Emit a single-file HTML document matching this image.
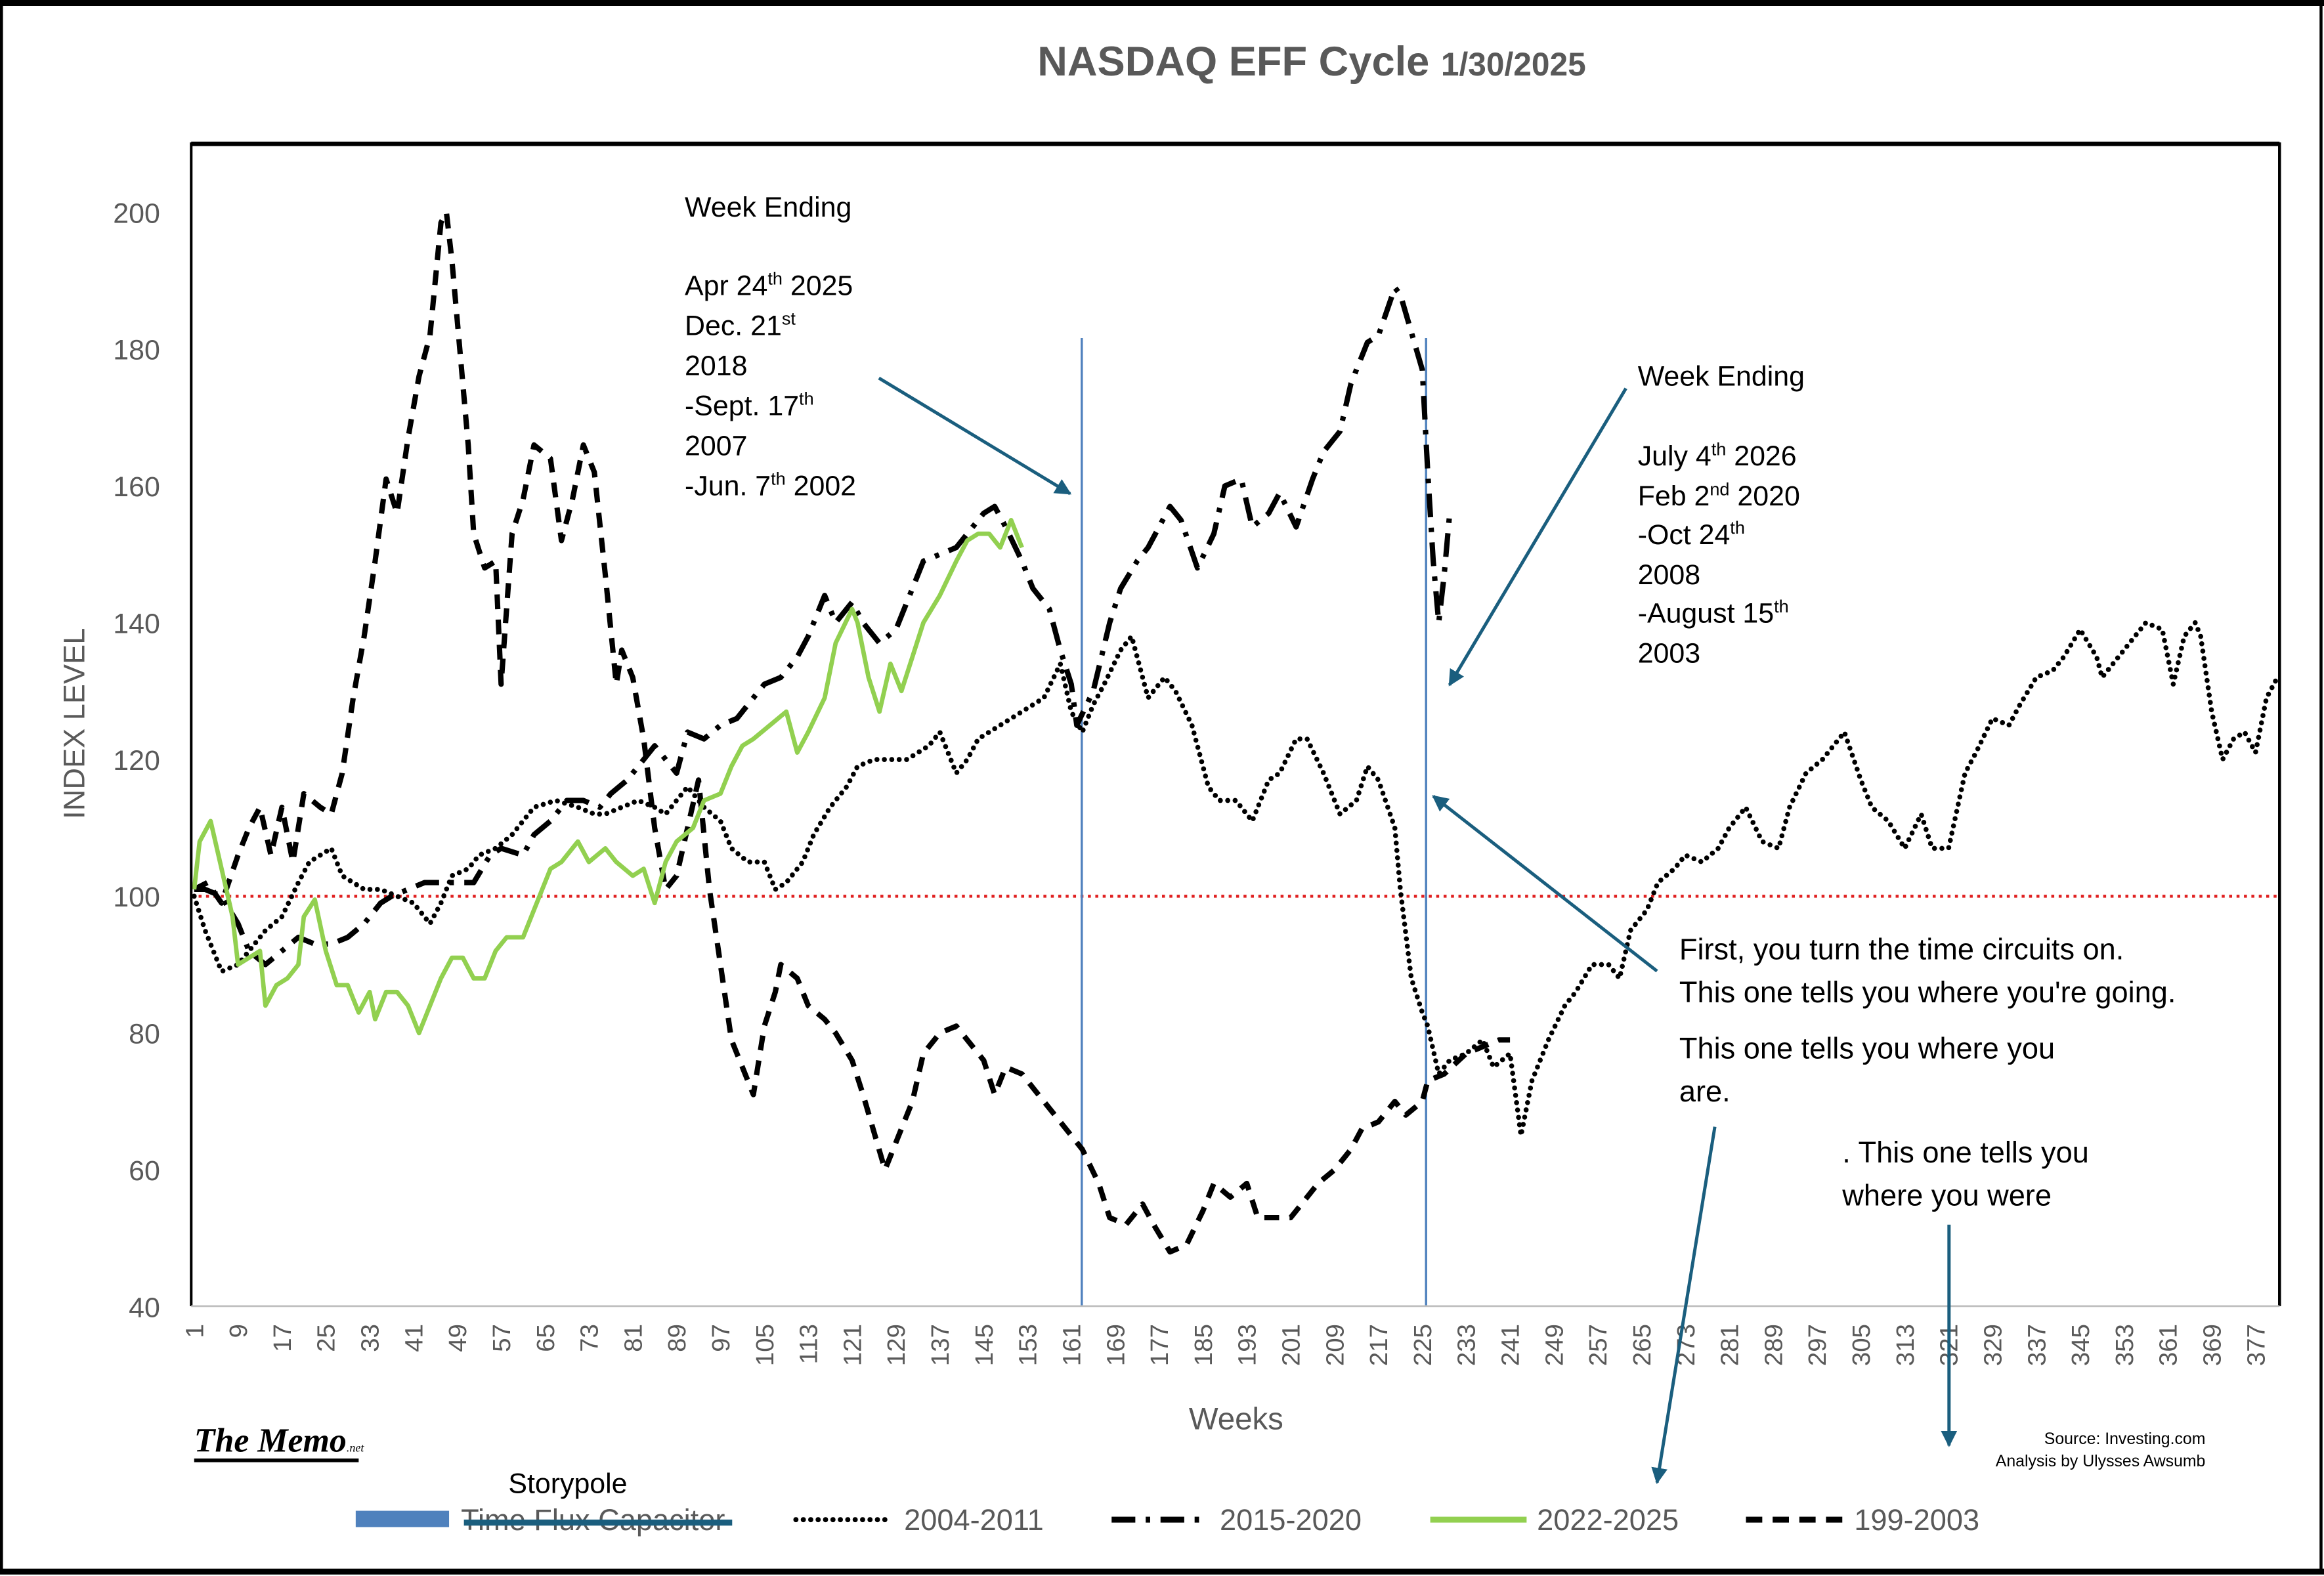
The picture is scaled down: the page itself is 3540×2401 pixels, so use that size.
<!DOCTYPE html>
<html><head><meta charset="utf-8"><style>
html,body{margin:0;padding:0;background:#fff;}
svg{display:block;}
text{font-family:"Liberation Sans",sans-serif;}
</style></head>
<body>
<svg id="chart" width="3540" height="2401" viewBox="0 0 1568 1063" preserveAspectRatio="none" xmlns="http://www.w3.org/2000/svg">
<rect x="0" y="0" width="1568" height="1063" fill="#fff"/>
<rect x="1" y="2" width="1565" height="1058" fill="none" stroke="#000" stroke-width="2"/>
<line x1="0" y1="2" x2="1568" y2="2" stroke="#000" stroke-width="4"/>
<line x1="0" y1="1060" x2="1568" y2="1060" stroke="#000" stroke-width="4"/>
<g>
<text x="885" y="51" text-anchor="middle" fill="#595959" font-weight="bold" font-size="28">NASDAQ EFF Cycle <tspan font-size="22">1/30/2025</tspan></text>
</g>
<g id="plot"></g>
<g id="axes"></g>
<g font-size="19" fill="#000">
<text x="462" y="146">Week Ending</text>
<text x="462" y="199">Apr 24<tspan font-size="12" dy="-7">th</tspan><tspan dy="7"> 2025</tspan></text>
<text x="462" y="226">Dec. 21<tspan font-size="12" dy="-7">st</tspan></text>
<text x="462" y="253">2018</text>
<text x="462" y="280">-Sept. 17<tspan font-size="12" dy="-7">th</tspan></text>
<text x="462" y="307">2007</text>
<text x="462" y="334">-Jun. 7<tspan font-size="12" dy="-7">th</tspan><tspan dy="7"> 2002</tspan></text>
</g>
<g font-size="19" fill="#000">
<text x="1105" y="260">Week Ending</text>
<text x="1105" y="314">July 4<tspan font-size="12" dy="-7">th</tspan><tspan dy="7"> 2026</tspan></text>
<text x="1105" y="341">Feb 2<tspan font-size="12" dy="-7">nd</tspan><tspan dy="7"> 2020</tspan></text>
<text x="1105" y="367">-Oct 24<tspan font-size="12" dy="-7">th</tspan></text>
<text x="1105" y="394">2008</text>
<text x="1105" y="420">-August 15<tspan font-size="12" dy="-7">th</tspan></text>
<text x="1105" y="447">2003</text>
</g>
<g font-size="20" fill="#000">
<text x="1133" y="647">First, you turn the time circuits on.</text>
<text x="1133" y="676">This one tells you where you're going.</text>
<text x="1133" y="714">This one tells you where you</text>
<text x="1133" y="743">are.</text>
<text x="1243" y="784">. This one tells you</text>
<text x="1243" y="813">where you were</text>
</g>
<defs>
<marker id="ah" viewBox="0 0 10 10" refX="9" refY="5" markerWidth="5" markerHeight="5" orient="auto"><path d="M0,0 L10,5 L0,10 z" fill="#1a5e7e"/></marker>
</defs>
<g stroke="#1a5e7e" stroke-width="2.2" marker-end="url(#ah)">
<line x1="593" y1="255" x2="722" y2="333"/>
<line x1="1097" y1="262" x2="978" y2="462"/>
<line x1="1118" y1="655" x2="967" y2="537"/>
<line x1="1157" y1="760" x2="1118" y2="1000"/>
<line x1="1315" y1="826" x2="1315" y2="975"/>
</g>
<g>
<text x="131" y="979" style="font-family:'Liberation Serif',serif;font-style:italic;font-weight:bold;" font-size="23" fill="#000">The Memo<tspan font-size="8" font-weight="normal">.net</tspan></text>
<line x1="131" y1="985" x2="242" y2="985" stroke="#000" stroke-width="2.5"/>
</g>
<g font-size="11" fill="#000" text-anchor="end">
<text x="1488" y="974">Source: Investing.com</text>
<text x="1488" y="989">Analysis by Ulysses Awsumb</text>
</g>
<g font-size="20" fill="#595959">
<text x="343" y="1007" fill="#000" font-size="19">Storypole</text>
<rect x="240" y="1019" width="63" height="11" fill="#4f81bd"/>
<text x="311" y="1032">Time Flux Capacitor</text>
<line x1="313" y1="1027" x2="494" y2="1027" stroke="#1a5e7e" stroke-width="4"/>
<line x1="537" y1="1025" x2="598" y2="1025" stroke="#000" stroke-width="3.5" stroke-dasharray="0,5" stroke-linecap="round"/>
<text x="610" y="1032">2004-2011</text>
<line x1="750" y1="1025" x2="815" y2="1025" stroke="#000" stroke-width="4" stroke-dasharray="16,7,3,7"/>
<text x="823" y="1032">2015-2020</text>
<line x1="965" y1="1025" x2="1030" y2="1025" stroke="#92d050" stroke-width="4"/>
<text x="1037" y="1032">2022-2025</text>
<line x1="1178" y1="1025" x2="1243" y2="1025" stroke="#000" stroke-width="4" stroke-dasharray="11,7"/>
<text x="1251" y="1032">199-2003</text>
</g>
</svg>
<script>
// ---- data ----
const yTicks = [40,60,80,100,120,140,160,180,200];
const xTickStart = 1, xTickStep = 8, xTickEnd = 377;
const baseline = 100;
const marker1Week = 162.9;
const marker2Week = 225.7;

const w1999 = [1,3.4,6,9,11,13,15,17,19,21,24,26,28,30,32,34,36,38,40,42,44,46,47,48,49,51,52,54,56,57,59,61,63,66,68,70,72,74,76,78,79,81,83,85,87,89,91,93,95,97,99,101,103,105,107,108,111,113,116,118,121,123,127,129,132,134,137,140,142,145,147,149,152,155,159,163,166,168,171,174,176,179,182,185,187,190,193,195,198,201,203,206,209,212,214,217,220,222,225,226,229,233,236,239,241];
const v1999 = [101,102,99,106,110,113,106,113,105,115,113,112,118,129,138,149,161,156,167,176,182,198.5,200,193,184,166,153,148,149,131,153,158,166,164,152,158,166,162,147,131,136,132,123,110,101,103,110,117,101,90,79,75,71,81,86,90,88,84,82,80,76,71,60,64,70,77,80,81,79,76,71,75,74,71,67,63,58,53,52,55,52,48,49,54,58,56,58,53,53,53,55,58,60,63,66,67,70,68,70,73,74,77,78,79,79];

const w2004 = [1,3,6,9,11,14,17,20,22,26,28,32,35,38,41,44,46,48,51,53,56,59,63,67,71,74,76,79,82,85,87,89,91,94,97,99,102,105,107,109,112,114,117,120,122,125,128,131,135,137,140,142,144,148,152,156,159,161,163,165,167,170,172,175,178,180,183,186,188,191,194,197,199,202,204,207,210,213,215,217,220,221,223,225,226,228,230,233,236,238,241,243,245,248,251,253,256,259,261,263,266,268,271,273,276,279,281,284,287,290,292,295,298,302,305,307,310,313,316,318,321,324,326,329,332,334,337,340,342,345,348,349,352,355,357,360,362,364,366,367,369,371,373,375,377,379,381];
const v2004 = [100,95,89,90,92,95,97,102,105,107,103,101,101,100,99,96,99,103,104,106,107,109,113,114,113,112,112,113,114,113,112,114,116,113,111,107,105,105,101,102,105,109,113,116,119,120,120,120,122,124,118,120,123,125,127,129,134,127,124,128,131,136,138,129,132,130,125,116,114,114,111,117,118,123,123,118,112,114,119,117,110,101,88,83,81,74,76,77,79,75,77,65,73,79,84,86,90,90,88,95,98,102,104,106,105,107,110,113,108,107,113,118,120,124,117,113,111,107,112,107,107,118,121,126,125,128,132,133,135,139,135,132,135,138,140,139,131,138,140,138,127,120,123,124,121,129,132];

const w2015 = [1,3,6,9,11,14,17,20,23,26,29,32,35,37,40,43,47,49,52,55,57,61,63,66,69,72,75,77,80,83,85,89,91,94,97,100,103,105,108,111,113,116,118,121,123,126,129,132,134,137,140,142,145,147,149,152,154,157,159,161,162,165,168,170,173,175,179,181,184,187,189,192,194,197,199,202,205,207,210,212,215,217,220,221,225,226,227,228,229,230];
const v2015 = [101,101,100,96,92,90,92,94,93,93,94,96,99,100,101,102,102,102,102,106,107,106,109,111,114,114,113,115,117,120,122,118,124,123,125,126,129,131,132,135,138,144,140,143,140,137,139,145,149,150,151,153,156,157,154,149,145,142,136,131,125,130,140,145,149,151,157,155,148,153,160,161,154,156,159,154,161,165,168,175,181,182,189,188,177,162,149,140,147,156];

const w2022 = [1,2,4,6,8,9,11,13,14,16,18,20,21,23,25,27,29,31,33,34,36,38,40,42,44,46,48,50,52,54,56,58,61,63,66,68,71,73,76,78,81,83,85,87,89,92,94,97,99,101,103,106,109,111,113,116,118,121,122,124,126,128,130,132,134,137,140,142,144,146,148,150,152];
const v2022 = [101,108,111,104,97,90,91,92,84,87,88,90,97,99.5,92,87,87,83,86,82,86,86,84,80,84,88,91,91,88,88,92,94,94,98,104,105,108,105,107,105,103,104,99,105,108,110,114,115,119,122,123,125,127,121,124,129,137,142,140,132,127,134,130,135,140,144,149,152,153,153,151,155,151];

// ---- axes ----
const L=129, R=1538, T=97, B=881;
function xs(w){ return 131 + (w-1)*3.699; }
function ys(v){ return 604.5 - (v-100)*4.6125; }
const NS="http://www.w3.org/2000/svg";
const svg=document.getElementById('chart');
const plot=document.getElementById('plot');
const axes=document.getElementById('axes');
function mk(tag, attrs, parent){ const e=document.createElementNS(NS,tag); for(const k in attrs) e.setAttribute(k,attrs[k]); parent.appendChild(e); return e; }

let fr=mk('line',{x1:L,y1:T,x2:R,y2:T,stroke:'#000','stroke-width':3},axes);


let fl=mk('line',{x1:L,y1:T-1,x2:L,y2:B,stroke:'#000','stroke-width':1.8},axes);


let frr=mk('line',{x1:R,y1:T-1,x2:R,y2:B,stroke:'#000','stroke-width':2},axes);


let xb=mk('line',{x1:L,y1:B,x2:R,y2:B,stroke:'#bfbfbf','stroke-width':1.2},axes);



yTicks.forEach(v=>{
  const t=mk('text',{x:108,y:ys(v)+7,'text-anchor':'end','font-size':19,fill:'#595959'},axes);
  t.textContent=v;
  
  
});
for(let w=xTickStart; w<=xTickEnd; w+=xTickStep){
  const x=xs(w);
  const t=mk('text',{x:0,y:0,'text-anchor':'end','font-size':17,fill:'#595959',transform:`translate(${x+6},${B+12}) rotate(-90)`},axes);
  t.textContent=w;
  
  
}
const yt=mk('text',{x:0,y:0,'text-anchor':'middle','font-size':20,fill:'#595959',transform:'translate(57,488) rotate(-90)'},axes);
yt.textContent='INDEX LEVEL';


const xt=mk('text',{x:834,y:964,'text-anchor':'middle','font-size':21,fill:'#595959'},axes);
xt.textContent='Weeks';



const bl=mk('line',{x1:L,y1:ys(baseline),x2:R,y2:ys(baseline),stroke:'#e02020','stroke-width':2,'stroke-dasharray':'2,3'},plot);



[marker1Week, marker2Week].forEach((w,i)=>{
  const m=mk('line',{x1:xs(w),y1:228,x2:xs(w),y2:B,stroke:'#4f81bd','stroke-width':1.5},plot);
  
  
});

function series(ws, vs, style){
  const d=ws.map((w,i)=>(i?'L':'M')+xs(w).toFixed(1)+','+ys(vs[i]).toFixed(1)).join(' ');
  const p=mk('path',Object.assign({d:d,fill:'none','stroke-linejoin':'round'},style),plot);
  return p;
}
const s1=series(w2004,v2004,{stroke:'#000','stroke-width':3.4,'stroke-dasharray':'0,5','stroke-linecap':'round'});


const s2=series(w1999,v1999,{stroke:'#000','stroke-width':3.6,'stroke-dasharray':'10,7'});


const s3=series(w2015,v2015,{stroke:'#000','stroke-width':3.6,'stroke-dasharray':'16,7,3,7'});


const s4=series(w2022,v2022,{stroke:'#92d050','stroke-width':3});


</script>
</body></html>
